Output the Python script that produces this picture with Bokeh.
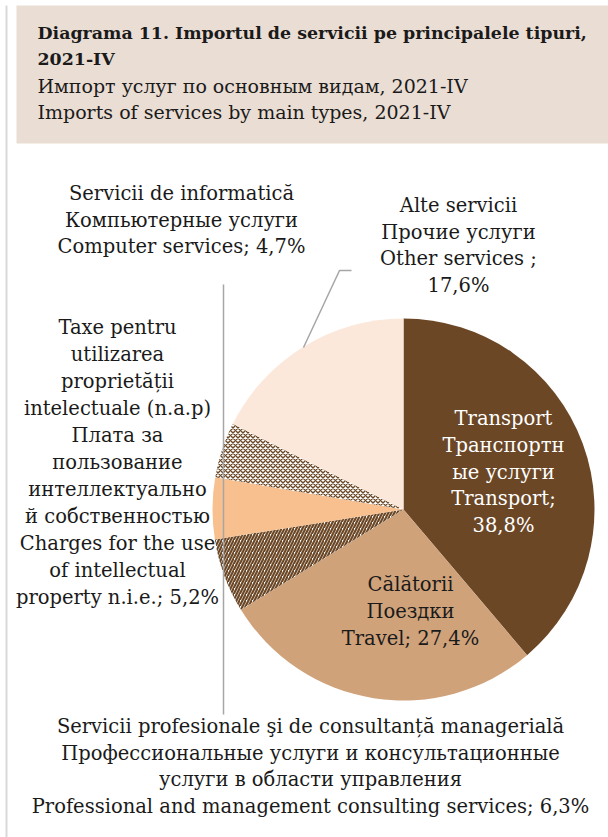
import math
from bokeh.plotting import figure
from bokeh.models import ColumnDataSource, Range1d
from bokeh.core.properties import value
from bokeh.embed import file_html
from bokeh.resources import INLINE

# ---------------- data ----------------
categories = ["Transport", "Travel", "Professional", "Charges", "Computer", "Other"]
shares = [38.8, 27.4, 6.3, 5.2, 4.7, 17.6]
fill_colors = ["#6B4726", "#D0A27A", "#FFFFFF", "#F8C08F", "#FFFFFF", "#FCE8DA"]
hatch_patterns = ["blank", "blank", "right_diagonal_line", "blank", "diagonal_cross", "blank"]
hatch_scales = [6, 6, 6, 6, 5, 6]
hatch_weights = [1, 1, 2.2, 1, 1.4, 1]

title_bold = [
    "Diagrama 11. Importul de servicii pe principalele tipuri,",
    "2021-IV",
]
title_normal = [
    "Импорт услуг по основным видам, 2021-IV",
    "Imports of services by main types, 2021-IV",
]
label_transport = ["Transport", "Транспортн", "ые услуги", "Transport;", "38,8%"]
label_travel = ["Călătorii", "Поездки", "Travel; 27,4%"]
label_other = ["Alte servicii", "Прочие услуги", "Other services ;", "17,6%"]
label_computer = ["Servicii de informatică", "Компьютерные услуги", "Computer services; 4,7%"]
label_charges = ["Taxe pentru", "utilizarea", "proprietății", "intelectuale (n.a.p)",
                 "Плата за", "пользование", "интеллектуально", "й собственностью",
                 "Charges for the use", "of intellectual", "property n.i.e.; 5,2%"]
label_prof = ["Servicii profesionale şi de consultanță managerială",
              "Профессиональные услуги и консультационные",
              "услуги в области управления",
              "Professional and management consulting services; 6,3%"]

# ---------------- layout ----------------
W, H = 608, 837


def Y(ref_y):
    return H - ref_y


FONT = "DejaVu Serif"
FS = "19.5px"

p = figure(width=W, height=H, x_range=Range1d(0, W), y_range=Range1d(0, H),
           output_backend="svg", toolbar_location=None,
           x_axis_location=None, y_axis_location=None, min_border=0)
p.grid.visible = False
p.outline_line_color = None
p.background_fill_color = "white"

# title box
p.quad(left=16, right=W + 2, top=Y(5), bottom=Y(143), fill_color="#EADDD3", line_color=None)
# frame line at left
p.segment(x0=[6], y0=[Y(5)], x1=[6], y1=[Y(840)], line_color="#D9D9D9", line_width=2)

p.text(x=[37] * 2, y=[Y(32), Y(58)], text=title_bold,
       text_font=value(FONT), text_font_size="17.4px", text_align="left", text_baseline="middle",
       text_color="#1a1a1a", text_font_style="bold")
p.text(x=[37] * 2, y=[Y(85), Y(111)], text=title_normal,
       text_font=value(FONT), text_font_size="19px", text_align="left", text_baseline="middle",
       text_color="#1a1a1a")

# pie
cx, cy, R = 403, Y(509), 191
starts, ends = [], []
cum = 0.0
total = sum(shares)
for s in shares:
    a0 = math.pi / 2 - 2 * math.pi * cum / total
    cum += s
    a1 = math.pi / 2 - 2 * math.pi * cum / total
    starts.append(a0)
    ends.append(a1)
src = ColumnDataSource(dict(start=starts, end=ends, fill=fill_colors, hatch=hatch_patterns,
                            hs=hatch_scales, hw=hatch_weights))
p.wedge(x=cx, y=cy, radius=R, start_angle="start", end_angle="end", direction="clock",
        fill_color="fill", line_color=None, hatch_pattern="hatch", hatch_color="#6B4726",
        hatch_scale="hs", hatch_weight="hw", source=src)

# leader lines
p.line(x=[351, 339, 303], y=[Y(270), Y(270), Y(347)], line_color="#A6A6A6", line_width=1.5)
p.segment(x0=[223], y0=[Y(284)], x1=[223], y1=[Y(714)], line_color="#A6A6A6", line_width=1.5)


def lines(lst, x, y0, dy, color="#1a1a1a"):
    p.text(x=[x] * len(lst), y=[Y(y0 + i * dy) for i in range(len(lst))], text=lst,
           text_font=value(FONT), text_font_size=FS, text_align="center",
           text_baseline="middle", text_color=color)


lines(label_transport, 503, 418, 26.8, "white")
lines(label_travel, 410, 584, 26.8)
lines(label_other, 458, 205, 26.5)
lines(label_computer, 181, 193, 26.5)
lines(label_charges, 117, 327, 27.0)
lines(label_prof, 310, 726, 26.7)

open("out.html", "w").write(file_html(p, INLINE))
